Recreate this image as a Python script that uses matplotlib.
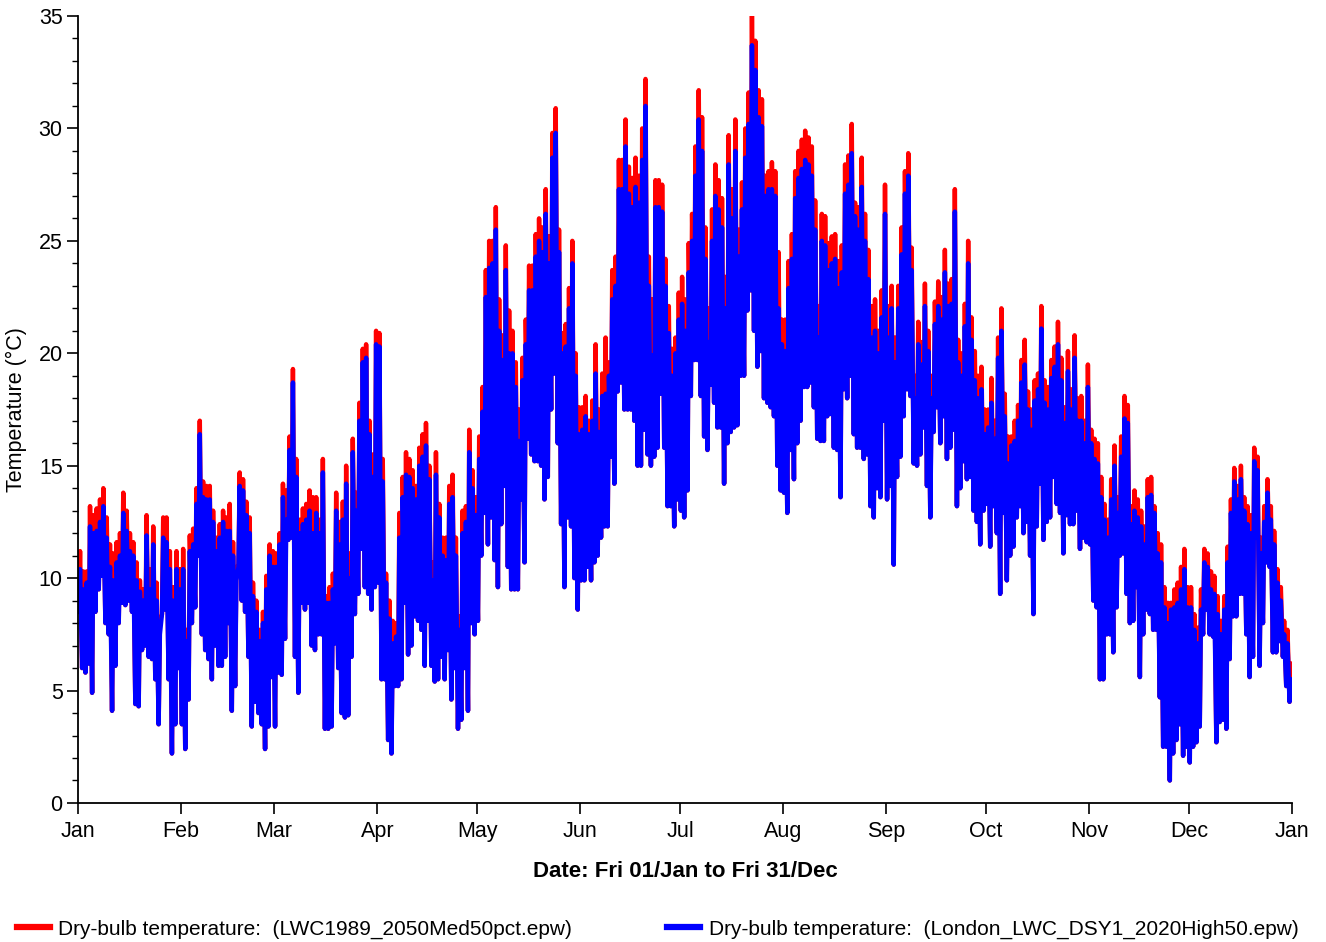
import numpy as np
import matplotlib.pyplot as plt
from matplotlib.lines import Line2D
from matplotlib.ticker import MultipleLocator

plt.rcParams['font.family'] = ['Liberation Sans', 'DejaVu Sans']

month_labels = ['Jan', 'Feb', 'Mar', 'Apr', 'May', 'Jun', 'Jul', 'Aug', 'Sep', 'Oct', 'Nov', 'Dec', 'Jan']
month_starts = [0, 31, 59, 90, 120, 151, 181, 212, 243, 273, 304, 334, 365]

label_red = 'Dry-bulb temperature:  (LWC1989_2050Med50pct.epw)'
label_blue = 'Dry-bulb temperature:  (London_LWC_DSY1_2020High50.epw)'

# daily peaks of the blue file (one row per month)
blue_max = [
    10.4, 9.5, 9.8, 12.3, 12.0, 12.1, 12.5, 13.2, 11.8, 10.5, 9.9, 10.7, 11.0, 12.9, 12.1, 11.2, 11.0, 9.9, 9.4, 9.0, 11.9, 9.5, 11.5, 9.0, 7.5, 11.8, 11.6, 10.4, 9.0, 10.4, 9.5,
    10.4, 7.2, 11.2, 11.5, 13.3, 16.4, 13.6, 13.5, 13.5, 12.5, 11.2, 11.8, 12.5, 12.1, 12.1, 11.0, 9.9, 14.1, 13.9, 12.8, 12.0, 9.2, 8.5, 7.2, 8.0, 9.5, 11.0, 10.5,
    10.5, 11.5, 13.6, 12.6, 15.7, 18.7, 14.5, 12.0, 12.4, 12.6, 13.0, 12.0, 12.9, 12.0, 14.7, 8.9, 8.9, 9.5, 13.0, 11.5, 12.6, 14.2, 10.0, 15.6, 13.0, 17.0, 19.6, 19.8, 16.4, 14.5, 20.4,
    20.3, 14.3, 9.8, 8.2, 7.1, 7.4, 11.8, 13.6, 14.6, 14.5, 14.0, 13.5, 15.0, 15.4, 15.9, 14.4, 9.9, 14.6, 12.7, 11.0, 10.8, 13.3, 13.6, 11.0, 7.7, 12.0, 12.5, 15.6, 14.0, 12.8,
    15.3, 17.4, 22.5, 23.8, 24.0, 25.5, 21.0, 19.7, 23.7, 20.0, 20.0, 18.5, 16.1, 18.8, 20.4, 22.8, 22.8, 24.3, 25.0, 24.5, 26.2, 24.0, 28.7, 29.8, 24.5, 20.0, 20.3, 22.0, 24.0, 19.0, 16.4,
    16.6, 17.2, 16.4, 17.0, 19.1, 16.5, 18.1, 18.2, 19.0, 22.4, 23.0, 27.3, 27.3, 29.2, 27.1, 26.5, 27.4, 26.7, 28.6, 31.0, 23.0, 19.9, 26.5, 26.5, 26.3, 23.0, 20.9, 19.0, 20.0, 21.5,
    22.2, 21.0, 23.6, 25.0, 27.9, 30.4, 29.0, 24.2, 20.5, 25.0, 27.0, 26.4, 25.6, 22.0, 28.4, 26.0, 29.0, 24.3, 26.4, 28.7, 30.2, 33.7, 32.6, 30.5, 30.1, 27.0, 27.3, 27.3, 27.0, 22.0, 20.4,
    20.1, 22.9, 24.2, 26.9, 27.8, 28.2, 28.6, 28.4, 27.9, 25.5, 20.7, 25.0, 24.8, 23.7, 24.0, 24.2, 22.9, 23.6, 27.1, 27.5, 28.9, 26.1, 25.5, 27.4, 25.0, 23.3, 20.7, 21.0, 20.0, 21.6, 26.2,
    20.7, 22.0, 19.6, 22.0, 24.4, 27.1, 27.9, 23.7, 18.0, 20.4, 19.5, 22.1, 20.1, 18.0, 21.3, 22.1, 21.5, 23.6, 22.1, 22.2, 26.3, 19.6, 19.0, 21.2, 24.0, 20.6, 18.8, 18.0, 18.4, 16.4,
    16.7, 17.8, 16.2, 19.8, 21.0, 17.2, 15.1, 15.9, 16.1, 17.0, 18.7, 19.5, 17.5, 16.6, 17.9, 18.4, 21.1, 17.8, 17.5, 18.9, 19.4, 20.4, 18.8, 16.9, 19.2, 17.5, 19.8, 17.0, 17.0, 16.0, 18.5,
    16.0, 15.3, 15.1, 13.6, 12.6, 11.8, 13.5, 15.0, 12.9, 15.4, 17.1, 16.9, 12.4, 13.0, 12.7, 12.3, 11.5, 13.6, 13.7, 12.9, 11.1, 10.7, 8.7, 8.0, 8.6, 8.7, 8.9, 9.5, 10.4, 8.7,
    8.7, 7.7, 7.1, 8.6, 10.7, 10.5, 9.5, 9.3, 8.4, 7.5, 8.6, 10.7, 12.9, 14.3, 13.5, 14.4, 13.0, 12.4, 12.0, 15.2, 14.8, 11.1, 12.5, 13.8, 12.6, 11.5, 9.8, 9.0, 7.5, 7.1, 5.5,
]

# daily peaks of the red file
red_max = [
    11.2, 10.3, 10.3, 13.2, 12.8, 13.1, 13.5, 14.0, 12.7, 11.5, 11.1, 11.6, 12.0, 13.8, 13.0, 12.0, 11.6, 10.7, 9.9, 9.5, 12.8, 10.4, 12.3, 9.8, 8.1, 12.7, 12.7, 11.2, 9.6, 11.2, 10.4,
    11.3, 7.7, 11.9, 12.2, 14.0, 17.0, 14.3, 14.1, 14.1, 13.0, 11.8, 12.4, 13.0, 12.7, 13.3, 11.6, 10.5, 14.7, 14.4, 13.4, 12.7, 9.8, 9.0, 7.7, 8.5, 10.1, 11.5, 11.2,
    11.1, 12.0, 14.2, 13.9, 16.3, 19.3, 15.3, 12.6, 13.1, 13.3, 13.9, 13.6, 13.6, 12.6, 15.3, 9.2, 9.6, 10.2, 13.8, 12.5, 13.4, 15.0, 11.1, 16.2, 13.8, 17.8, 20.2, 20.4, 17.0, 15.5, 21.0,
    20.9, 15.3, 10.2, 9.0, 8.1, 8.0, 12.9, 14.5, 15.6, 15.3, 14.8, 14.1, 15.8, 16.4, 16.9, 15.0, 10.7, 15.6, 13.3, 11.8, 11.8, 14.1, 14.6, 11.8, 8.3, 13.0, 13.2, 16.6, 14.8, 13.6,
    16.3, 18.5, 23.7, 25.0, 25.0, 26.5, 22.4, 20.8, 24.8, 21.9, 21.0, 19.6, 17.5, 19.8, 21.5, 23.9, 23.9, 25.3, 26.0, 25.6, 27.3, 25.2, 29.8, 30.9, 25.5, 20.9, 21.3, 22.9, 25.0, 20.0, 17.6,
    17.6, 18.1, 17.0, 17.9, 20.4, 17.5, 19.1, 20.7, 19.6, 23.7, 24.3, 28.6, 28.6, 30.4, 28.3, 27.8, 28.7, 27.9, 30.0, 32.2, 24.3, 22.4, 27.7, 27.7, 27.5, 24.2, 22.1, 20.2, 20.7, 22.7,
    23.4, 22.4, 24.9, 26.2, 29.2, 31.7, 30.5, 25.6, 22.0, 26.4, 28.4, 27.7, 26.9, 23.4, 29.7, 27.3, 30.4, 25.5, 27.6, 30.0, 31.6, 35.0, 33.9, 31.7, 31.3, 27.9, 28.1, 28.5, 28.1, 24.5, 21.5,
    21.5, 24.1, 25.3, 28.1, 29.0, 29.5, 29.9, 29.6, 29.2, 26.8, 22.1, 26.2, 26.1, 24.9, 25.2, 25.3, 24.1, 24.8, 28.4, 28.8, 30.2, 26.7, 26.5, 28.7, 26.2, 24.6, 22.1, 22.4, 21.0, 22.8, 27.5,
    22.1, 23.0, 20.7, 23.0, 25.6, 28.1, 28.9, 24.7, 19.0, 21.4, 20.5, 23.1, 21.0, 19.0, 22.3, 23.2, 22.5, 24.6, 23.1, 23.3, 27.3, 20.6, 20.0, 22.2, 25.0, 21.6, 20.1, 19.0, 19.4, 17.5,
    17.5, 18.9, 17.0, 20.7, 22.0, 18.2, 16.3, 16.3, 17.0, 17.7, 19.7, 20.6, 18.3, 17.5, 18.8, 19.1, 22.1, 18.8, 18.5, 19.7, 20.3, 21.4, 19.8, 17.6, 20.1, 18.4, 20.8, 18.0, 18.1, 17.0, 19.5,
    16.6, 16.2, 16.0, 14.5, 13.3, 12.6, 14.4, 15.9, 13.6, 16.3, 18.1, 17.7, 13.2, 13.9, 13.5, 13.0, 12.3, 14.4, 14.5, 13.2, 12.0, 11.5, 9.6, 8.9, 8.9, 9.5, 9.8, 10.5, 11.3, 9.6,
    9.6, 8.4, 7.8, 9.5, 11.3, 11.1, 10.3, 10.1, 9.2, 8.1, 9.2, 11.4, 13.5, 14.9, 14.1, 15.0, 13.6, 13.2, 12.8, 15.8, 15.4, 11.8, 13.2, 14.4, 13.2, 12.1, 10.4, 9.6, 8.1, 7.7, 6.2,
]

# daily lows (the red file's lows sit behind the blue ones)
daily_min = [
    8.5, 6.0, 5.8, 6.2, 4.9, 8.5, 9.5, 10.1, 8.0, 7.5, 4.1, 6.1, 8.0, 8.9, 8.8, 9.0, 8.5, 4.4, 4.3, 6.8, 7.0, 6.5, 6.4, 5.5, 3.5, 8.4, 8.6, 5.5, 2.2, 3.5, 6.0,
    3.5, 2.4, 4.6, 8.0, 8.7, 11.0, 7.5, 6.8, 6.4, 5.5, 7.0, 6.1, 6.1, 6.5, 8.0, 4.1, 5.2, 10.5, 9.0, 8.5, 6.5, 3.4, 4.5, 4.0, 3.5, 2.4, 3.4, 5.6,
    3.4, 5.8, 5.7, 7.3, 11.7, 11.8, 6.5, 4.9, 8.9, 8.6, 8.9, 7.0, 6.8, 7.5, 7.5, 3.3, 3.3, 3.4, 7.1, 6.0, 4.0, 3.8, 3.9, 6.5, 8.4, 9.3, 11.3, 9.6, 9.3, 8.6, 9.6,
    9.8, 5.5, 5.5, 2.8, 2.2, 5.2, 5.2, 5.5, 8.9, 6.6, 7.0, 8.3, 8.1, 7.7, 6.1, 8.1, 6.1, 5.4, 5.5, 6.5, 5.5, 6.8, 4.6, 6.0, 3.3, 3.7, 6.0, 4.1, 8.0, 7.5,
    8.1, 11.0, 12.9, 11.5, 12.7, 10.8, 9.6, 12.4, 14.1, 10.5, 9.5, 9.5, 9.5, 13.5, 10.7, 16.2, 15.5, 15.2, 15.2, 15.0, 13.5, 14.5, 17.5, 19.1, 16.0, 12.4, 9.6, 12.7, 12.3, 10.0, 8.6,
    9.9, 9.9, 10.5, 9.9, 10.7, 11.0, 11.8, 12.3, 12.3, 15.4, 14.2, 18.3, 18.7, 17.5, 17.5, 17.5, 17.0, 15.0, 15.0, 16.6, 15.5, 15.0, 15.4, 15.8, 18.2, 15.8, 13.2, 13.2, 12.3, 13.5,
    13.0, 12.7, 13.9, 18.1, 19.7, 19.7, 18.1, 16.3, 15.7, 18.6, 17.8, 16.7, 16.7, 14.2, 16.0, 16.5, 16.7, 16.8, 19.0, 19.0, 21.9, 22.8, 21.0, 19.4, 20.1, 18.0, 17.8, 17.6, 17.2, 15.0, 13.9,
    13.8, 12.9, 15.7, 14.4, 16.0, 17.0, 18.5, 18.5, 18.7, 17.6, 16.2, 16.1, 16.1, 17.2, 17.3, 15.8, 15.7, 13.6, 18.4, 18.0, 19.0, 16.4, 15.8, 15.8, 15.3, 15.5, 13.2, 12.7, 14.0, 13.6, 17.0,
    13.5, 14.1, 10.6, 14.5, 15.4, 17.2, 18.4, 18.1, 15.1, 15.0, 15.5, 16.7, 14.1, 12.7, 16.5, 17.6, 16.0, 17.2, 15.3, 15.8, 16.6, 13.2, 14.0, 15.2, 14.4, 14.5, 13.0, 12.5, 11.5, 13.0,
    13.3, 11.4, 13.2, 12.0, 9.3, 12.9, 9.9, 11.0, 11.4, 12.7, 13.2, 12.0, 12.5, 11.0, 8.4, 12.3, 14.2, 11.7, 12.5, 12.7, 14.5, 13.3, 12.9, 11.1, 12.8, 12.4, 12.4, 13.0, 11.3, 11.8, 11.6,
    11.5, 9.0, 8.7, 5.5, 5.5, 7.5, 7.5, 6.7, 8.7, 11.0, 11.1, 9.3, 8.0, 8.1, 9.6, 5.6, 7.5, 8.6, 8.4, 7.7, 7.7, 4.7, 2.5, 2.5, 1.0, 2.2, 2.8, 3.5, 2.1, 2.5,
    1.8, 2.5, 2.7, 3.4, 7.5, 8.6, 7.5, 7.4, 2.7, 3.6, 3.7, 3.3, 6.4, 8.3, 8.3, 9.3, 9.3, 7.5, 5.6, 6.5, 11.8, 6.1, 8.0, 10.7, 10.5, 6.7, 6.7, 7.2, 6.5, 5.2, 4.5,
]

# low in the early morning, high in the afternoon
days = np.arange(len(blue_max))
x = np.empty(2 * len(days))
x[0::2] = days + 0.25
x[1::2] = days + 0.625

blue = np.empty_like(x)
blue[0::2] = daily_min
blue[1::2] = blue_max
red = np.empty_like(x)
red[0::2] = daily_min
red[1::2] = red_max

fig = plt.figure(figsize=(13.26, 9.42), dpi=100)
ax = fig.add_axes([0.0588, 0.1476, 0.9156, 0.8354])

ax.plot(x, red, color='#ff0000', lw=3.2)
ax.plot(x, blue, color='#0000ff', lw=3.2)

ax.set_xlim(0, 365)
ax.set_ylim(0, 35)
ax.set_xticks(month_starts)
ax.set_xticklabels(month_labels)
ax.yaxis.set_major_locator(MultipleLocator(5))
ax.yaxis.set_minor_locator(MultipleLocator(1))
ax.tick_params(axis='both', which='major', direction='out', length=8, width=1.2, labelsize=15.5)
ax.tick_params(axis='y', which='minor', direction='out', length=4, width=1)
ax.tick_params(axis='x', pad=5)
ax.tick_params(axis='y', pad=3)

for side in ['top', 'right']:
    ax.spines[side].set_visible(False)
for side in ['left', 'bottom']:
    ax.spines[side].set_linewidth(1.3)

ax.set_ylabel('Temperature (°C)', fontsize=15.5, labelpad=8)
ax.set_xlabel('Date: Fri 01/Jan to Fri 31/Dec', fontsize=16, fontweight='bold', labelpad=14)

handles = [Line2D([], [], color='#ff0000', lw=4.5), Line2D([], [], color='#0000ff', lw=4.5)]
fig.legend(handles, [label_red, label_blue], loc='center', bbox_to_anchor=(0.496, 0.0138),
           ncol=2, frameon=False, fontsize=15, handlelength=1.6, handletextpad=0.4,
           columnspacing=4.55, borderpad=0)

fig.savefig('out.png', dpi=100)
